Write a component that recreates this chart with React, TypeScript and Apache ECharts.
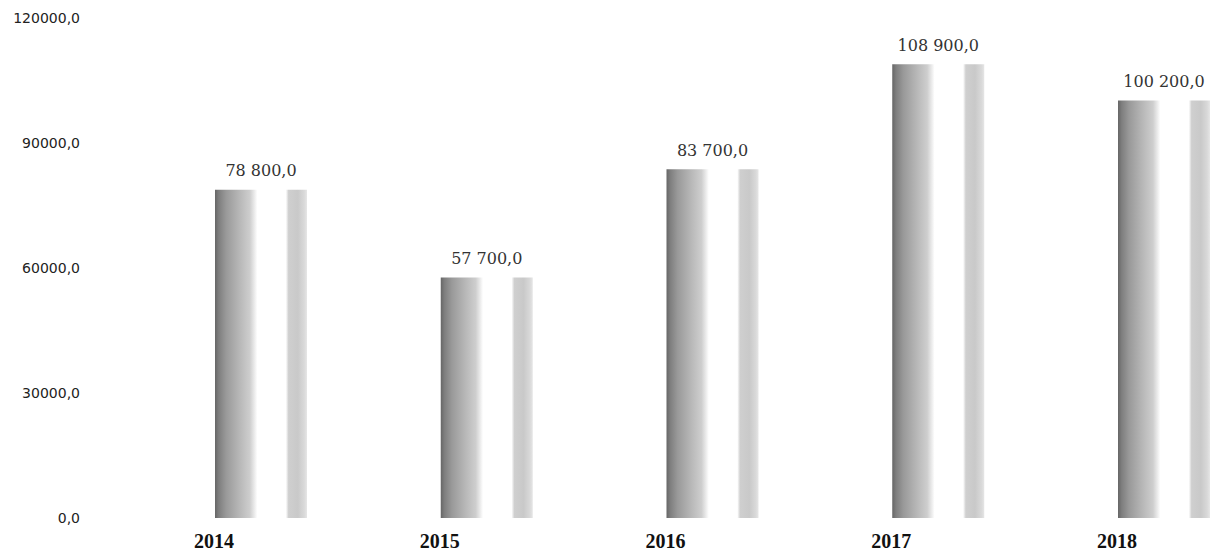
import React, { useEffect, useRef } from "react";
import * as echarts from "echarts";

const categories = ["2014", "2015", "2016", "2017", "2018"];
const values = [78800, 57700, 83700, 108900, 100200];
const yMin = 0;
const yMax = 120000;
const yInterval = 30000;

function fmtValue(v: number): string {
  const s = Math.round(v).toString().replace(/\B(?=(\d{3})+(?!\d))/g, " ");
  return s + ",0";
}

export default function App() {
  const ref = useRef<HTMLDivElement>(null);
  useEffect(() => {
    if (!ref.current) return;
    const chart = echarts.init(ref.current, undefined, { renderer: "svg" });
    const barGradient = new echarts.graphic.LinearGradient(0, 0, 1, 0, [
      { offset: 0, color: "#666666" },
      { offset: 0.04, color: "#7e7e7e" },
      { offset: 0.12, color: "#999999" },
      { offset: 0.25, color: "#b4b4b4" },
      { offset: 0.38, color: "#cecece" },
      { offset: 0.43, color: "#ececec" },
      { offset: 0.46, color: "#ffffff" },
      { offset: 0.77, color: "#ffffff" },
      { offset: 0.8, color: "#cfcfcf" },
      { offset: 0.9, color: "#c9c9c9" },
      { offset: 0.97, color: "#d9d9d9" },
      { offset: 1, color: "#e6e6e6" },
    ]);
    chart.setOption({
      animation: false,
      backgroundColor: "#ffffff",
      grid: { left: 261, right: 50, top: 18, bottom: 33, containLabel: false },
      xAxis: {
        type: "category",
        data: categories,
        boundaryGap: false,
        axisLine: { show: false },
        axisTick: { show: false },
        splitLine: { show: false },
        axisLabel: {
          fontFamily: "Liberation Serif",
          fontWeight: "bold",
          fontSize: 20,
          color: "#111111",
          margin: 13,
          padding: [0, 94, 0, 0],
        },
      },
      yAxis: {
        type: "value",
        min: yMin,
        max: yMax,
        interval: yInterval,
        axisLine: { show: false },
        axisTick: { show: false },
        splitLine: { show: false },
        axisLabel: {
          fontFamily: "DejaVu Sans",
          fontSize: 14,
          color: "#222222",
          margin: 181,
          formatter: (v: number) => `${v},0`,
        },
      },
      series: [
        {
          type: "bar",
          data: values,
          barWidth: 92,
          itemStyle: { color: barGradient },
          label: {
            show: true,
            position: "top",
            distance: 11,
            fontFamily: "DejaVu Serif",
            fontSize: 16,
            color: "#333333",
            formatter: (p: any) => fmtValue(p.value),
          },
        },
      ],
    });
    return () => chart.dispose();
  }, []);
  return (
    <div
      ref={ref}
      style={{ position: "absolute", left: 0, top: 0, width: 1214, height: 551 }}
    />
  );
}
